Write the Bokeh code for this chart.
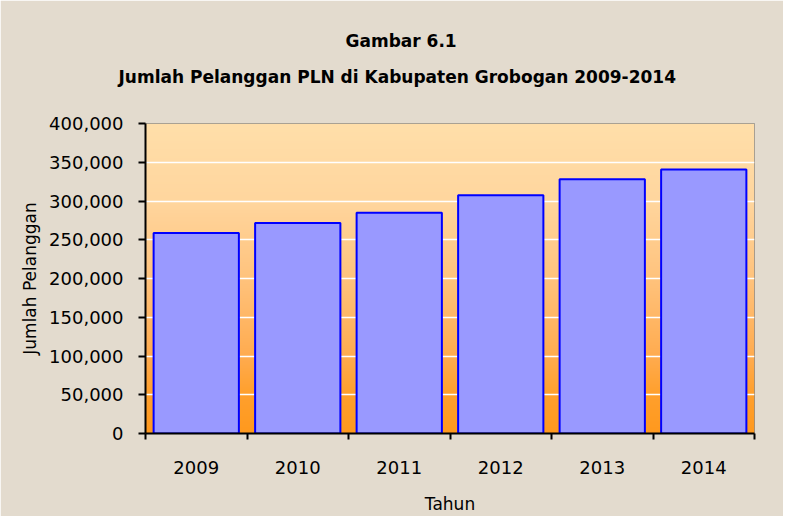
import numpy as np
from bokeh.plotting import figure
from bokeh.models import (FixedTicker, NumeralTickFormatter, Title, Range1d)
from bokeh.embed import file_html
from bokeh.resources import INLINE

# ---- data ----
years = ["2009", "2010", "2011", "2012", "2013", "2014"]
pelanggan = [258600, 271500, 284800, 307400, 328000, 340800]
y_ticks = [0, 50000, 100000, 150000, 200000, 250000, 300000, 350000, 400000]
title_line1 = "Gambar 6.1"
title_line2 = "Jumlah Pelanggan PLN di Kabupaten Grobogan 2009-2014"
x_label = "Tahun"
y_label = "Jumlah Pelanggan"

FONT = "DejaVu Sans"
BG = "#E3DBCE"

n = len(years)
centers = [i + 0.5 for i in range(n)]
bounds = list(range(n + 1))

p = figure(width=783, height=516, output_backend="svg", toolbar_location=None,
           x_range=Range1d(0, n), y_range=Range1d(0, y_ticks[-1]),
           min_border_left=145, min_border_right=29, min_border_top=123,
           min_border_bottom=82,
           background_fill_color=BG, border_fill_color=BG)

# titles (later-added goes further up)
t2 = Title(text=title_line2, align="left", text_font=FONT, text_font_size="17px",
           text_font_style="bold", text_color="#000000", offset=-27, standoff=74)
t1 = Title(text=title_line1, align="left", text_font=FONT, text_font_size="17px",
           text_font_style="bold", text_color="#000000", offset=200, standoff=-47)
p.add_layout(t2, "above")
p.add_layout(t1, "above")

# gradient plot background
stops_y = [0.0, 0.125, 0.25, 0.5, 0.75, 1.0]
stops_g = [153, 160, 172, 195, 214, 223]
stops_b = [30, 45, 80, 125, 158, 170]
rows = 311
tt = np.linspace(0, 1, rows)
r = np.full(rows, 255, dtype=np.uint32)
g = np.interp(tt, stops_y, stops_g).astype(np.uint32)
b = np.interp(tt, stops_y, stops_b).astype(np.uint32)
col = (255 << 24) | (b << 16) | (g << 8) | r
img = col.reshape(rows, 1).astype(np.uint32)
p.image_rgba(image=[img], x=0, y=0, dw=n, dh=y_ticks[-1], level="image")

# bars
p.vbar(x=centers, top=pelanggan, width=0.84, bottom=0,
       fill_color="#9999FF", line_color="#0000FF", line_width=2)

# grid
p.xgrid.visible = False
p.ygrid.ticker = FixedTicker(ticks=y_ticks)
p.ygrid.grid_line_color = "#FFFFFF"
p.ygrid.grid_line_width = 1.5

p.outline_line_color = "#8C8C8C"
p.outline_line_width = 1

# x axis
xa = p.xaxis[0]
xa.ticker = FixedTicker(ticks=centers, minor_ticks=bounds)
xa.major_label_overrides = {c: y for c, y in zip(centers, years)}
xa.major_tick_out = 0
xa.major_tick_in = 0
xa.minor_tick_out = 6
xa.minor_tick_in = 0
xa.minor_tick_line_color = "#000000"
xa.minor_tick_line_width = 2
xa.axis_line_color = "#000000"
xa.axis_line_width = 2
xa.major_label_standoff = 21
xa.major_label_text_font = FONT
xa.major_label_text_font_size = "18px"
xa.major_label_text_color = "#000000"
xa.axis_label = x_label
xa.axis_label_text_font = FONT
xa.axis_label_text_font_size = "17px"
xa.axis_label_text_font_style = "normal"
xa.axis_label_text_color = "#000000"
xa.axis_label_standoff = 17

# y axis
ya = p.yaxis[0]
ya.ticker = FixedTicker(ticks=y_ticks)
ya.formatter = NumeralTickFormatter(format="0,0")
ya.major_tick_out = 7
ya.major_tick_in = 0
ya.minor_tick_line_color = None
ya.major_tick_line_color = "#000000"
ya.major_tick_line_width = 2
ya.axis_line_color = "#000000"
ya.axis_line_width = 2
ya.major_label_standoff = 15
ya.major_label_text_font = FONT
ya.major_label_text_font_size = "18px"
ya.major_label_text_color = "#000000"
ya.axis_label = y_label
ya.axis_label_text_font = FONT
ya.axis_label_text_font_size = "17px"
ya.axis_label_text_font_style = "normal"
ya.axis_label_text_color = "#000000"
ya.axis_label_standoff = 6

open("out.html", "w").write(file_html(p, INLINE))
